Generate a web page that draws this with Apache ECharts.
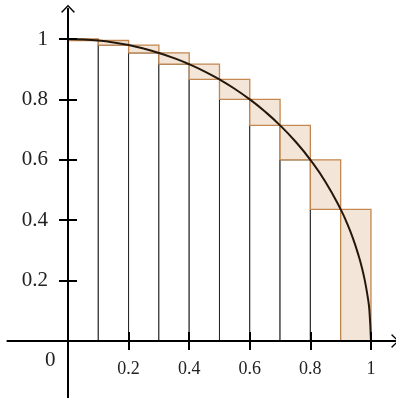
<!DOCTYPE html>
<html><head><meta charset="utf-8">
<script src="https://cdn.jsdelivr.net/npm/echarts@6/dist/echarts.min.js"></script>
<style>html,body{margin:0;padding:0;background:#fff}#c{width:396px;height:398px}</style>
</head><body><div id="c"></div>
<script>
// Subinterval left/right edges
const xLeft  = [0, 0.1, 0.2, 0.3, 0.4, 0.5, 0.6, 0.7, 0.8, 0.9];
const xRight = [0.1, 0.2, 0.3, 0.4, 0.5, 0.6, 0.7, 0.8, 0.9, 1.0];
// Lower (inscribed) and upper (circumscribed) rectangle heights
const lowerH = [0.995, 0.980, 0.954, 0.917, 0.866, 0.800, 0.714, 0.600, 0.436, 0];
const upperH = [1.000, 0.995, 0.980, 0.954, 0.917, 0.866, 0.800, 0.714, 0.600, 0.436];
// Curve points
const curveX = [0, 0.05, 0.1, 0.15, 0.2, 0.25, 0.3, 0.35, 0.4, 0.45, 0.5, 0.55, 0.6, 0.65, 0.7, 0.75, 0.8, 0.85, 0.9, 0.92, 0.94, 0.96, 0.97, 0.98, 0.99, 0.995, 1];
const curveY = [1, 0.9987, 0.995, 0.9887, 0.9798, 0.9682, 0.9539, 0.9367, 0.9165, 0.893, 0.866, 0.8352, 0.8, 0.7599, 0.7141, 0.6614, 0.6, 0.5268, 0.4359, 0.3919, 0.3412, 0.28, 0.2431, 0.199, 0.1411, 0.0999, 0];
// Tick labels
const xTicks = [0.2, 0.4, 0.6, 0.8, 1];
const yTicks = [0.2, 0.4, 0.6, 0.8, 1];

const rectData = xLeft.map((x, i) => [x, xRight[i], lowerH[i], upperH[i]]);
const curveData = curveX.map((x, i) => [x, curveY[i]]);

const arrow = 'path://M70,0 L140,72 L127,80 L70,20 L13,80 L0,72 Z';
const FONT = 'Liberation Serif';
const fmt = v => (Math.abs(v - 1) < 1e-9 ? '1' : String(+v.toFixed(1)));
const tickStyle = {color: '#000', width: 2};

const chart = echarts.init(document.getElementById('c'), null, {renderer: 'canvas'});
chart.setOption({
  animation: false,
  grid: [
    // main plotting grid: origin at the grid's bottom-left corner
    {left: 68, right: 0.8, top: 8.8, bottom: 57, containLabel: false, outerBoundsMode: 'none'},
    // extended grid used only for the axis lines that cross the origin
    {left: 7.4, right: 0.8, top: 8.8, bottom: -3.4, containLabel: false, outerBoundsMode: 'none'}
  ],
  xAxis: [{
    gridIndex: 0, type: 'value', min: 0, max: 1.08, position: 'bottom', z: 10,
    axisLine: {show: false, onZero: false},
    axisTick: {show: true, inside: false, length: 9, customValues: xTicks, lineStyle: tickStyle},
    axisLabel: {show: true, customValues: xTicks, formatter: fmt, margin: 19,
      fontFamily: FONT, fontSize: 18, color: '#222'},
    splitLine: {show: false}
  }, {
    gridIndex: 0, type: 'value', min: 0, max: 1.08, position: 'bottom', z: 10,
    axisLine: {show: false, onZero: false},
    axisTick: {show: true, inside: true, length: 9, customValues: xTicks, lineStyle: tickStyle},
    axisLabel: {show: false},
    splitLine: {show: false}
  }, {
    gridIndex: 1, type: 'value', min: -0.2, max: 1.08, z: 10,
    axisLine: {show: true, onZero: true, symbol: ['none', arrow], symbolSize: [14, 8],
      lineStyle: {color: '#000', width: 2}},
    axisTick: {show: false}, axisLabel: {show: false}, splitLine: {show: false}
  }],
  yAxis: [{
    gridIndex: 0, type: 'value', min: 0, max: 1.1, position: 'left', z: 10,
    axisLine: {show: false, onZero: false},
    axisTick: {show: true, inside: false, length: 9, customValues: yTicks, lineStyle: tickStyle},
    axisLabel: {show: true, customValues: yTicks, formatter: fmt, margin: 20,
      fontFamily: FONT, fontSize: 21, color: '#222'},
    splitLine: {show: false}
  }, {
    gridIndex: 0, type: 'value', min: 0, max: 1.1, position: 'left', z: 10,
    axisLine: {show: false, onZero: false},
    axisTick: {show: true, inside: true, length: 9, customValues: yTicks, lineStyle: tickStyle},
    axisLabel: {show: false},
    splitLine: {show: false}
  }, {
    gridIndex: 1, type: 'value', min: -0.2, max: 1.1, z: 10,
    axisLine: {show: true, onZero: true, symbol: ['none', arrow], symbolSize: [14, 8],
      lineStyle: {color: '#000', width: 2}},
    axisTick: {show: false}, axisLabel: {show: false}, splitLine: {show: false}
  }],
  graphic: [{
    type: 'text', left: 45, top: 350, z: 10,
    style: {text: '0', fontFamily: FONT, fontSize: 21, fill: '#222'}
  }],
  series: [{
    type: 'custom', xAxisIndex: 0, yAxisIndex: 0,
    data: rectData,
    encode: {x: [0, 1], y: [2, 3]},
    renderItem: function (params, api) {
      const x0 = api.value(0), x1 = api.value(1), lo = api.value(2), hi = api.value(3);
      const p00 = api.coord([x0, 0]), p1lo = api.coord([x1, lo]), p1hi = api.coord([x1, hi]), p0lo = api.coord([x0, lo]);
      const children = [];
      if (lo > 0) {
        children.push({type: 'rect', shape: {x: p00[0], y: p1lo[1], width: p1lo[0] - p00[0], height: p00[1] - p1lo[1]},
          style: {fill: '#fff', stroke: '#222', lineWidth: 1}});
      }
      children.push({type: 'rect', shape: {x: p0lo[0], y: p1hi[1], width: p1hi[0] - p0lo[0], height: p0lo[1] - p1hi[1]},
        style: {fill: '#f3e5d8', stroke: '#c4874f', lineWidth: 1.3}});
      return {type: 'group', children: children};
    },
    z: 2
  }, {
    type: 'line', xAxisIndex: 0, yAxisIndex: 0,
    data: curveData, showSymbol: false, smooth: true,
    lineStyle: {color: '#24180c', width: 2},
    z: 3
  }]
});
</script></body></html>
